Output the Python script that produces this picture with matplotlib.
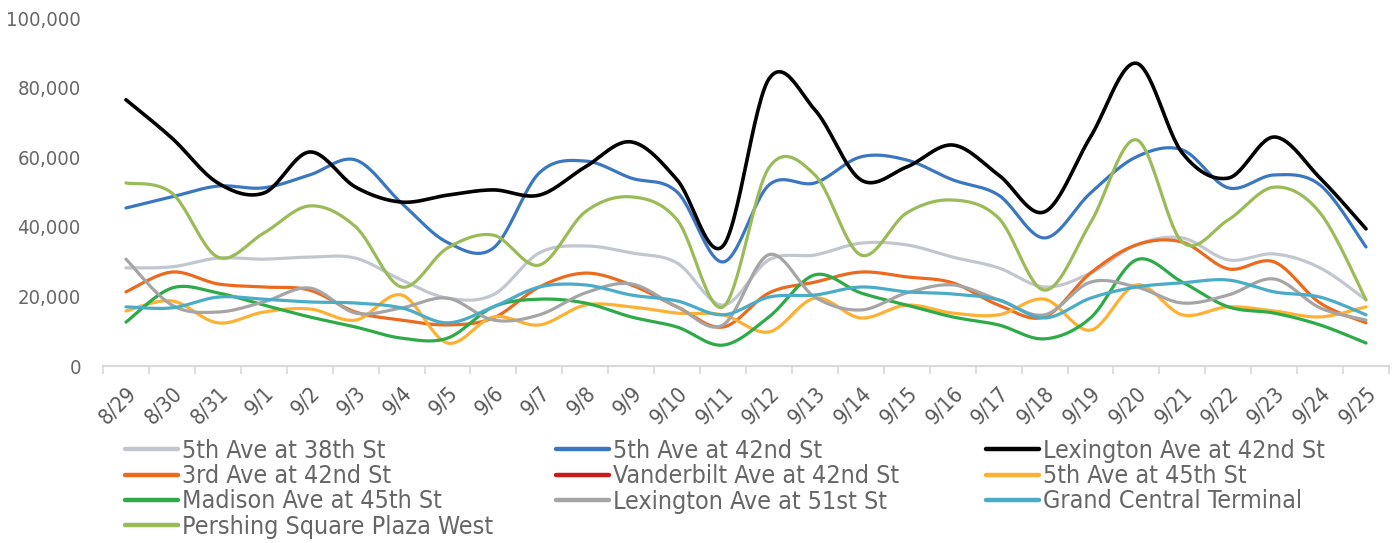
import numpy as np
import matplotlib
matplotlib.use("Agg")
import matplotlib.pyplot as plt

dates = ["8/29", "8/30", "8/31", "9/1", "9/2", "9/3", "9/4", "9/5", "9/6", "9/7",
         "9/8", "9/9", "9/10", "9/11", "9/12", "9/13", "9/14", "9/15", "9/16", "9/17",
         "9/18", "9/19", "9/20", "9/21", "9/22", "9/23", "9/24", "9/25"]

fifth_38 = [28200, 28500, 31000, 30700, 31300, 31000, 24700, 19500, 20500, 32500,
            34500, 32500, 29600, 17500, 30500, 31900, 35300, 34800, 31300, 28200,
            22700, 26700, 34800, 36800, 30500, 32200, 28200, 19000]
fifth_42 = [45400, 48600, 51700, 51200, 54900, 59200, 46800, 35500, 33900, 55500,
            58900, 54000, 50000, 29900, 52000, 52600, 60100, 59200, 53500, 49100,
            36800, 49700, 60100, 62100, 51200, 54900, 52000, 34200]
lex_42 = [76500, 65500, 52600, 49700, 61500, 51400, 47100, 49100, 50600, 49100,
          57200, 64400, 53500, 34500, 82500, 73600, 53500, 57200, 63500, 54900,
          44300, 65800, 87000, 61200, 54000, 65800, 54000, 39400]
third_42 = [21300, 27000, 23600, 22700, 21800, 15500, 13200, 11800, 13800, 22700,
            26700, 23300, 17000, 11200, 21000, 24100, 27000, 25600, 23900, 17500,
            14100, 26700, 34800, 35600, 27900, 29900, 18100, 12400]
vanderbilt_42 = [np.nan] * 28
fifth_45 = [15800, 18700, 12400, 15500, 16400, 13200, 20400, 6600, 14100, 11800,
            17500, 17000, 15200, 14700, 9800, 19500, 13800, 17500, 15200, 14700,
            19200, 10300, 23300, 14700, 17000, 15800, 14100, 17000]
madison_45 = [12600, 22400, 21000, 17500, 14100, 11200, 8000, 8000, 17000, 19200,
              18100, 14100, 11200, 6000, 14100, 26200, 21000, 17500, 14100, 11800,
              7800, 13800, 30500, 24100, 17000, 15200, 11800, 6600]
lex_51 = [30700, 17500, 15500, 18400, 22400, 15200, 16700, 19500, 13200, 14700,
          21000, 23600, 17000, 11800, 32000, 19800, 16100, 21000, 23300, 19000,
          14700, 24100, 22700, 18100, 20400, 25000, 16700, 13200]
gct = [17000, 16700, 19800, 19200, 18400, 18100, 16700, 12400, 17000, 22700,
       23300, 20400, 18700, 14700, 19800, 20400, 22700, 21300, 20700, 19000,
       13800, 19500, 22700, 23900, 24700, 21300, 19800, 14700]
pershing = [52600, 49700, 31300, 38200, 46000, 40000, 22700, 33900, 37600, 29000,
            44300, 48600, 42000, 17000, 57000, 54900, 31900, 44000, 47700, 42500,
            21800, 41100, 65000, 35600, 42000, 51400, 44000, 19000]

series_names = ["5th Ave at 38th St", "5th Ave at 42nd St", "Lexington Ave at 42nd St",
                "3rd Ave at 42nd St", "Vanderbilt Ave at 42nd St", "5th Ave at 45th St",
                "Madison Ave at 45th St", "Lexington Ave at 51st St", "Grand Central Terminal",
                "Pershing Square Plaza West"]
series_values = [fifth_38, fifth_42, lex_42, third_42, vanderbilt_42, fifth_45,
                 madison_45, lex_51, gct, pershing]
colors = ["#C2C7CF", "#3A77C0", "#000000", "#EC6A1E", "#C8191E", "#FDB134",
          "#2EAA48", "#A5A5A5", "#4AACC6", "#9BBB59"]


def smooth(x, y, n=30):
    x = np.asarray(x, float)
    y = np.asarray(y, float)
    xs, ys = [], []
    m = len(x)
    t = np.linspace(0, 1, n)
    for i in range(m - 1):
        x0, y0 = x[i], y[i]
        x3, y3 = x[i + 1], y[i + 1]
        xm, ym = (x[i - 1], y[i - 1]) if i > 0 else (x0, y0)
        xp, yp = (x[i + 2], y[i + 2]) if i + 2 < m else (x3, y3)
        x1, y1 = x0 + (x3 - xm) / 6, y0 + (y3 - ym) / 6
        x2, y2 = x3 - (xp - x0) / 6, y3 - (yp - y0) / 6
        bx = (1 - t) ** 3 * x0 + 3 * (1 - t) ** 2 * t * x1 + 3 * (1 - t) * t ** 2 * x2 + t ** 3 * x3
        by = (1 - t) ** 3 * y0 + 3 * (1 - t) ** 2 * t * y1 + 3 * (1 - t) * t ** 2 * y2 + t ** 3 * y3
        xs.append(bx)
        ys.append(by)
    return np.concatenate(xs), np.concatenate(ys)


plt.rcParams['font.family'] = ['DejaVu Sans']
plt.rcParams['font.stretch'] = 'condensed'
W, H = 1398, 543
fig = plt.figure(figsize=(W / 100, H / 100), dpi=100)
ax = fig.add_axes([103 / W, (H - 366) / H, (1389 - 103) / W, (366 - 18) / H])

xpos = np.arange(len(dates))
handles = []
for name, vals, c in zip(series_names, series_values, colors):
    lw = 2.6 if c == "#000000" else 2.3
    if np.all(np.isnan(np.asarray(vals, float))):
        h, = ax.plot([], [], color=c, lw=lw, label=name, solid_capstyle='round')
    else:
        sx, sy = smooth(xpos, vals)
        h, = ax.plot(sx, sy, color=c, lw=lw, label=name, solid_capstyle='round')
    handles.append(h)

ax.set_xlim(-0.5, len(dates) - 0.5)
ax.set_ylim(0, 100000)
ax.set_yticks(np.arange(0, 100001, 20000))
ax.set_yticklabels([f"{v:,}" for v in range(0, 100001, 20000)])
ax.set_xticks(xpos)
ax.set_xticklabels(dates, rotation=45, ha='right', rotation_mode='anchor')
ax.set_xticks(np.arange(-0.5, len(dates), 1), minor=True)
ax.tick_params(axis='x', which='major', length=0, pad=12, labelsize=15.5, labelcolor='#595959')
ax.tick_params(axis='x', which='minor', length=6, width=1.2, color='#D9D9D9')
ax.tick_params(axis='y', length=0, pad=16, labelsize=14.5, labelcolor='#666666')
for s in ['top', 'right', 'left']:
    ax.spines[s].set_visible(False)
ax.spines['bottom'].set_color('#D9D9D9')
ax.spines['bottom'].set_linewidth(1.5)

# legend: three columns, row-major order
cols = [[0, 3, 6, 9], [1, 4, 7], [2, 5, 8]]
col_x = [125, 556, 986]
for k, (idxs, cx) in enumerate(zip(cols, col_x)):
    leg = fig.legend([handles[i] for i in idxs], [series_names[i] for i in idxs],
                     loc='upper left', bbox_to_anchor=(cx / W, 1 - 439 / H),
                     bbox_transform=fig.transFigure, frameon=False,
                     fontsize=18, handlelength=2.1, handletextpad=0.18,
                     labelspacing=0.05, borderpad=0, borderaxespad=0, labelcolor='#666666')
    for line in leg.get_lines():
        line.set_linewidth(3.2)

fig.savefig("out.png", dpi=100)
